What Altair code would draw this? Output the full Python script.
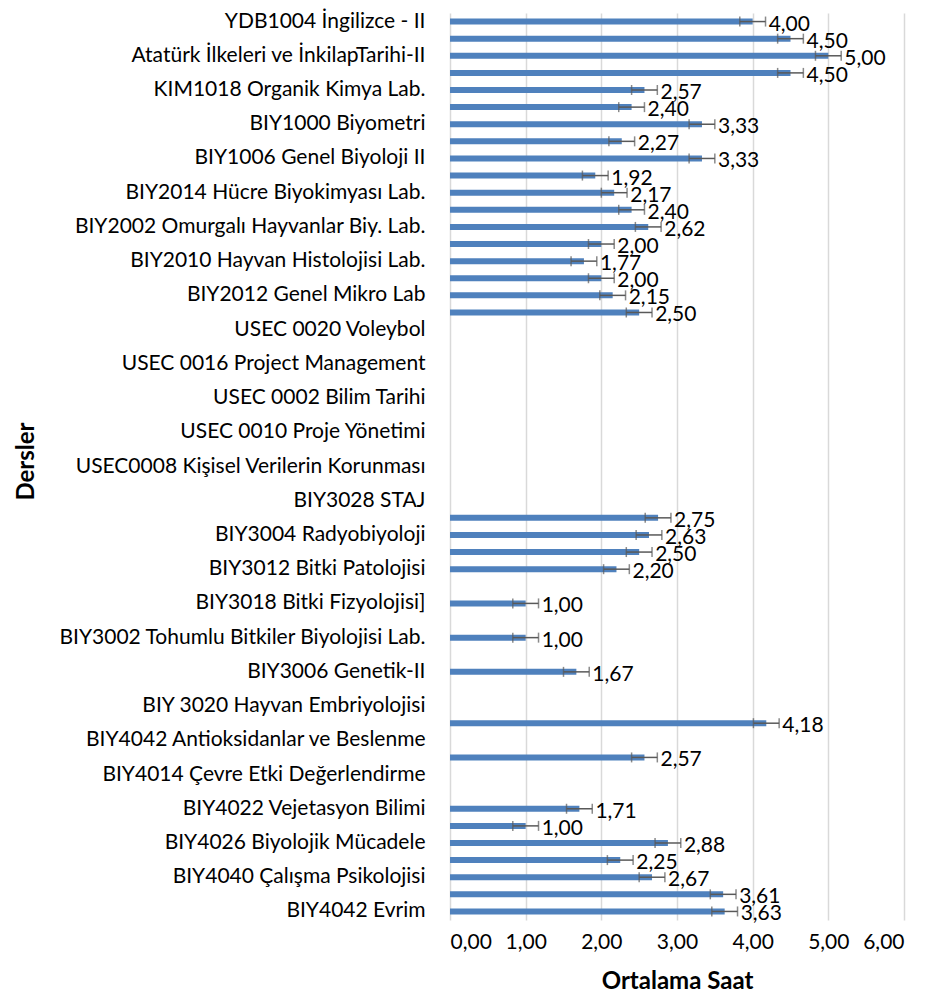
import altair as alt
import pandas as pd

# Categories from top to bottom ("" = category whose label Excel skipped)
courses = [
    "YDB1004 İngilizce - II\u00a0", "", "Atatürk İlkeleri ve İnkilapTarihi-II", "",
    "KIM1018 Organik Kimya Lab.", "", "BIY1000 Biyometri\u00a0", "",
    "BIY1006 Genel Biyoloji II\u00a0", "", "BIY2014 Hücre Biyokimyası Lab.", "",
    "BIY2002 Omurgalı Hayvanlar Biy. Lab.", "", "BIY2010 Hayvan Histolojisi Lab.", "",
    "BIY2012 Genel Mikro Lab", "", "USEC 0020 Voleybol", "",
    "USEC 0016 Project Management", "", "USEC 0002 Bilim Tarihi", "",
    "USEC 0010 Proje Yönetimi", "", "USEC0008 Kişisel Verilerin Korunması", "",
    "BIY3028 STAJ", "", "BIY3004 Radyobiyoloji", "", "BIY3012 Bitki Patolojisi", "",
    "BIY3018 Bitki Fizyolojisi]", "", "BIY3002 Tohumlu Bitkiler Biyolojisi Lab.", "",
    "BIY3006 Genetik-II", "", "BIY 3020 Hayvan Embriyolojisi", "",
    "BIY4042 Antioksidanlar ve Beslenme", "", "BIY4014 Çevre Etki Değerlendirme", "",
    "BIY4022 Vejetasyon Bilimi", "", "BIY4026 Biyolojik Mücadele", "",
    "BIY4040 Çalışma Psikolojisi", "", "BIY4042 Evrim",
]

means = [
    4.00, 4.50, 5.00, 4.50, 2.57, 2.40, 3.33, 2.27, 3.33, 1.92,
    2.17, 2.40, 2.62, 2.00, 1.77, 2.00, 2.15, 2.50,
    None, None, None, None, None, None, None, None, None, None, None,
    2.75, 2.63, 2.50, 2.20, None, 1.00, None, 1.00, None, 1.67,
    None, None, 4.18, None, 2.57, None, None,
    1.71, 1.00, 2.88, 2.25, 2.67, 3.61, 3.63,
]

std_err = 0.17  # Excel "standard error" bars, same width for every bar

keys = [c if c else f"_{i}" for i, c in enumerate(courses)]
df = pd.DataFrame({"key": keys, "mean": means})
bars = df.dropna().copy()
bars["lo"] = bars["mean"] - std_err
bars["hi"] = bars["mean"] + std_err
bars["lbl"] = bars["mean"].map(lambda v: f"{v:.2f}".replace(".", ","))

FONT = "Lato"
BLUE = "#4F81BD"
ERRC = "#595959"
FS = 21
TFS = 24

y_enc = alt.Y(
    "key:N",
    sort=keys,
    scale=alt.Scale(domain=keys, paddingInner=0, paddingOuter=0),
    axis=alt.Axis(
        title="Dersler",
        labelExpr="indexof(datum.value, '_') == 0 ? '' : datum.value",
        ticks=False, domain=False, grid=False,
        labelFont=FONT, labelFontSize=FS, labelColor="#000000",
        labelPadding=25, labelLimit=0,
        titleFont=FONT, titleFontSize=TFS, titleFontWeight="bold", titleColor="#000000",
        titleX=-424, titleY=448, titleAngle=270, titleAlign="center", titleBaseline="middle",
    ),
)

x_scale = alt.Scale(domain=[0, 6], nice=False)
x_axis = alt.Axis(
    title="Ortalama Saat",
    values=[0, 1, 2, 3, 4, 5, 6],
    labelExpr="replace(format(datum.value, '.2f'), '.', ',')",
    ticks=False, domain=False, grid=True,
    gridColor="#d9d9d9", gridWidth=1.5,
    labelFont=FONT, labelFontSize=FS, labelColor="#000000", labelPadding=11,
    titleFont=FONT, titleFontSize=TFS, titleFontWeight="bold", titleColor="#000000",
    titlePadding=17,
)

base = alt.Chart(bars)

bar = base.mark_bar(color=BLUE, size=6).encode(
    x=alt.X("mean:Q", scale=x_scale, axis=x_axis),
    y=y_enc,
)

err_line = base.mark_rule(color=ERRC, strokeWidth=1.5).encode(
    x="lo:Q", x2="hi:Q", y=alt.Y("key:N", sort=keys)
)
cap_lo = base.mark_tick(color=ERRC, thickness=1.5, size=10).encode(
    x="lo:Q", y=alt.Y("key:N", sort=keys)
)
cap_hi = base.mark_tick(color=ERRC, thickness=1.5, size=10).encode(
    x="hi:Q", y=alt.Y("key:N", sort=keys)
)

labels = base.mark_text(
    align="left", baseline="middle", dx=16, dy=3,
    font=FONT, fontSize=FS, color="#000000",
).encode(
    x="mean:Q", y=alt.Y("key:N", sort=keys), text="lbl:N"
)

chart = alt.layer(bar, err_line, cap_lo, cap_hi, labels).properties(
    width=454,
    height=907,
    autosize=alt.AutoSizeParams(type="none"),
    padding={"left": 442, "top": 5, "right": 19, "bottom": 76},
).configure_view(stroke=None)

chart.save("out.html", embed_options={"renderer": "svg", "actions": False})
